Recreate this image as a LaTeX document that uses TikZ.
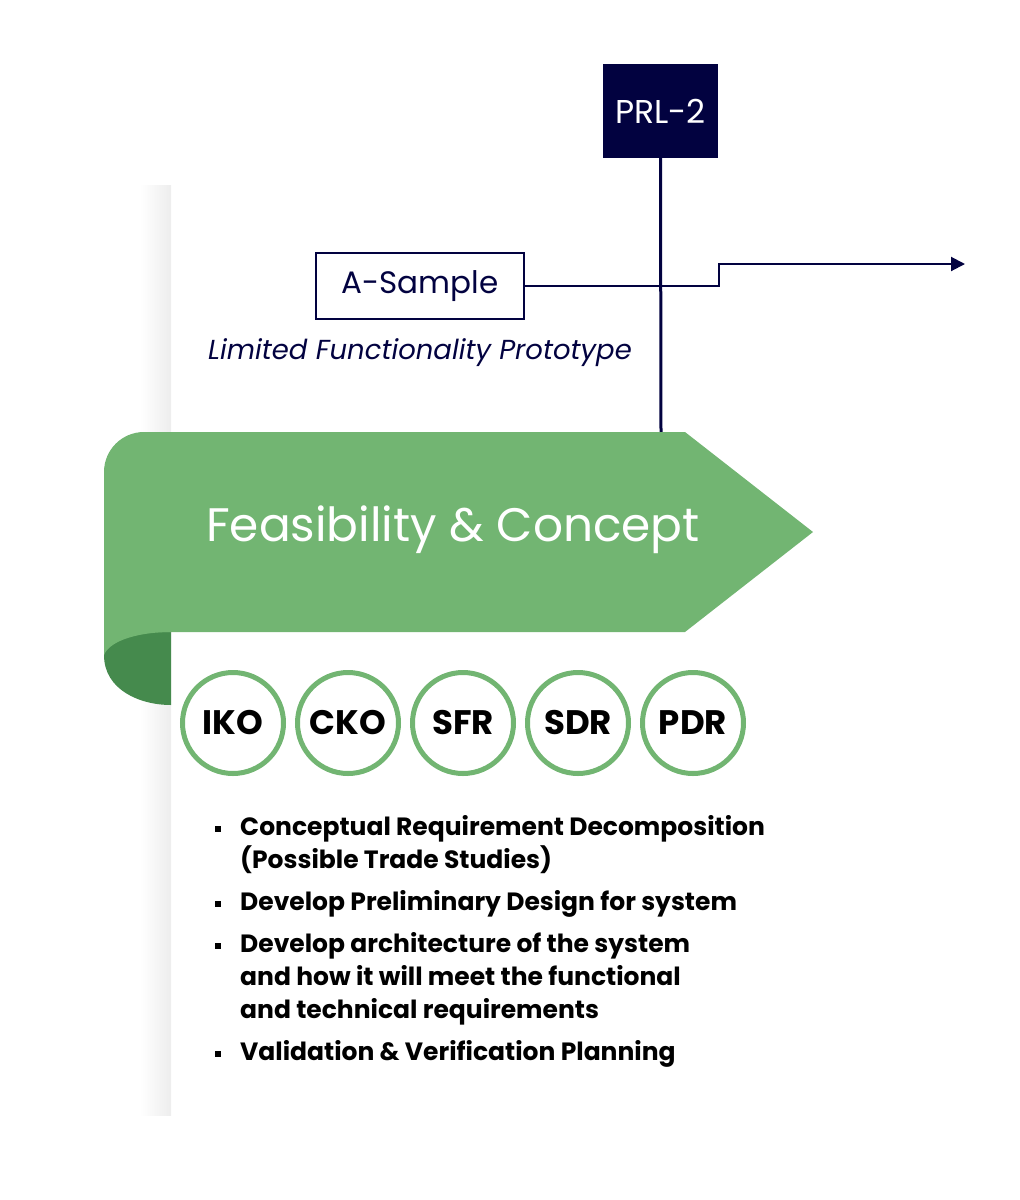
\documentclass[tikz,border=0pt]{standalone}
\usepackage{fontspec}
\setmainfont{Poppins}
\usetikzlibrary{arrows.meta}
\definecolor{navy}{RGB}{2,2,64}
\definecolor{gr}{RGB}{114,181,114}
\definecolor{dgr}{RGB}{69,138,77}
\begin{document}
\begin{tikzpicture}[x=1pt,y=-1pt,
  circ/.style={circle,draw=gr,line width=5pt,minimum size=101pt,inner sep=0pt,font=\fontsize{34}{36}\selectfont\bfseries},
  bul/.style={anchor=west,font=\fontsize{25}{33}\selectfont\bfseries,align=left,inner sep=0pt}]
\useasboundingbox (0,0) rectangle (1020,1200);
% card shadow
\shade[left color=white,right color=black!7] (140,185) rectangle (171,1115);
% PRL-2
\node[fill=navy,text=white,minimum width=115pt,minimum height=94pt,font=\fontsize{33}{34}\selectfont,inner sep=0pt] (prl) at (660.5,111) {PRL-2};
\coordinate (vb) at (661,432);
\draw[navy,line width=3pt] (prl.south) -- (vb);
% A-Sample
\node[draw=navy,line width=2.5pt,minimum width=208pt,minimum height=66pt,text=navy,font=\fontsize{31}{34}\selectfont,inner sep=0pt] (as) at (420,286) {A-Sample};
\coordinate (ae) at (965,264);
\draw[navy,line width=2pt,-{Triangle[length=14pt,width=14pt]}] (as.east) -- (719,286) -- (719,264) -- (ae);
\node[text=navy,font=\fontsize{27.5}{30}\selectfont\itshape] (lf) at (420,353) {Limited Functionality Prototype};
% banner
\fill[dgr] (104,632) -- (104,655) .. controls (104,690) and (140,705) .. (171,705) -- (171,632) -- cycle;
\fill[gr] (104,472) arc[start angle=180,end angle=270,radius=40] -- (685,432) -- (813,532) -- (685,632) -- (104,632) -- cycle;
\fill[gr] (104,632) -- (104,655) .. controls (110,640) and (140,632) .. (171,632) -- cycle;
\node[text=white,font=\fontsize{47}{50}\selectfont] (fc) at (453,530) {Feasibility \& Concept};
% circles
\node[circ] (c1) at (233,723) {IKO};
\node[circ] (c2) at (348,723) {CKO};
\node[circ] (c3) at (463,723) {SFR};
\node[circ] (c4) at (578,723) {SDR};
\node[circ] (c5) at (693,723) {PDR};
% bullets
\foreach \y in {829,904,946,1054} \fill (215,\y-3) rectangle (221,\y+3);
\node[bul] (b1) at (240,845) {Conceptual Requirement Decomposition\\(Possible Trade Studies)};
\node[bul] (b2) at (240,904) {Develop Preliminary Design for system};
\node[bul] (b3) at (240,979) {Develop architecture of the system\\and how it will meet the functional\\and technical requirements};
\node[bul] (b4) at (240,1054) {Validation \& Verification Planning};
\end{tikzpicture}
\end{document}
